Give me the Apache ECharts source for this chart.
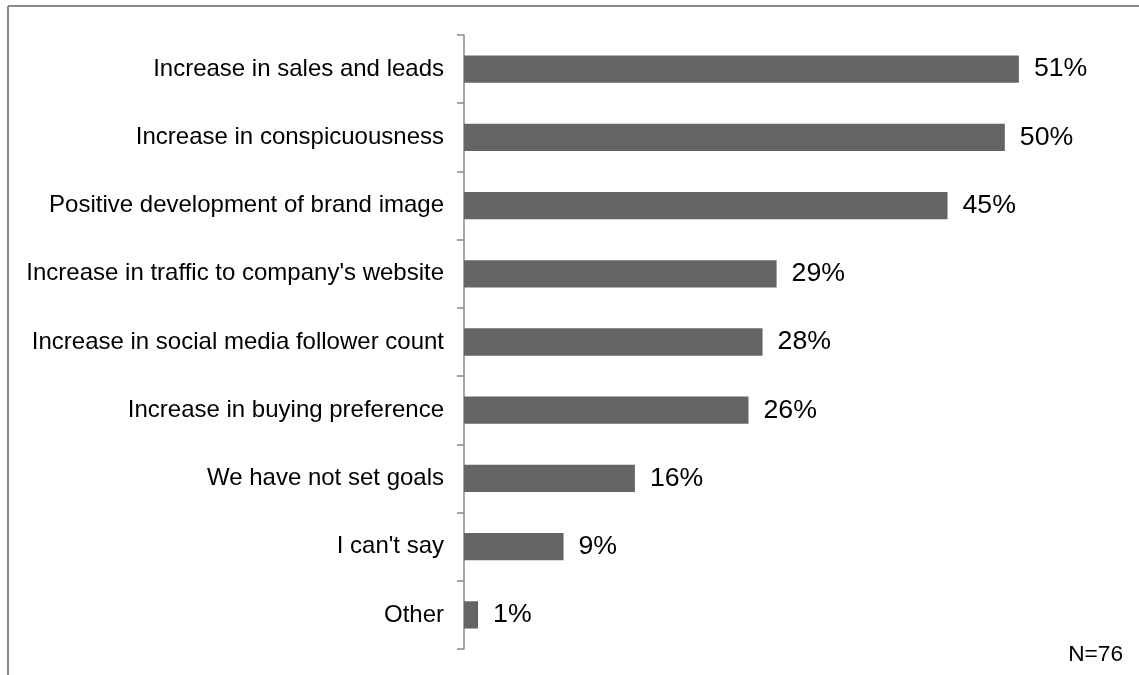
<!DOCTYPE html>
<html>
<head>
<meta charset="utf-8">
<script src="https://cdn.jsdelivr.net/npm/echarts@6/dist/echarts.min.js"></script>
<style>
html,body{margin:0;padding:0;background:#fff;}
#chart{width:1139px;height:675px;}
</style>
</head>
<body>
<div id="chart"></div>
<script>
const categories = [
  "Increase in sales and leads",
  "Increase in conspicuousness",
  "Positive development of brand image",
  "Increase in traffic to company's website",
  "Increase in social media follower count",
  "Increase in buying preference",
  "We have not set goals",
  "I can't say",
  "Other"
];
const values = [51.3, 50.0, 44.7, 28.9, 27.6, 26.3, 15.8, 9.2, 1.3];
const note = "N=76";

const chart = echarts.init(document.getElementById('chart'), null, {renderer: 'canvas'});
const font = '"Liberation Sans", Arial, sans-serif';
chart.setOption({
  animation: false,
  backgroundColor: '#ffffff',
  grid: {left: 464, right: 26, top: 35, bottom: 26, containLabel: false},
  xAxis: {
    type: 'value', min: 0, max: 60,
    show: false
  },
  yAxis: {
    type: 'category',
    data: categories,
    inverse: true,
    axisLine: {show: true, lineStyle: {color: '#888888', width: 1.5}},
    axisTick: {show: true, length: 7, lineStyle: {color: '#888888', width: 1.5}},
    axisLabel: {
      color: '#000000', fontSize: 24, fontFamily: font, margin: 20
    },
    splitLine: {show: false}
  },
  series: [{
    type: 'bar',
    data: values,
    barCategoryGap: '60%',
    itemStyle: {color: '#646464'},
    label: {
      show: true, position: 'right', distance: 15,
      color: '#000000', fontSize: 26.7, fontFamily: font,
      formatter: p => Math.round(p.value) + '%'
    }
  }],
  graphic: [
    {type: 'line', shape: {x1: 8, y1: 6, x2: 1139, y2: 6}, style: {stroke: '#8a8a8a', lineWidth: 2}},
    {type: 'line', shape: {x1: 8, y1: 6, x2: 8, y2: 675}, style: {stroke: '#8a8a8a', lineWidth: 2}},
    {type: 'text', right: 16, top: 643, style: {text: note, fill: '#000000', font: '22.7px ' + font}}
  ]
});
</script>
</body>
</html>
